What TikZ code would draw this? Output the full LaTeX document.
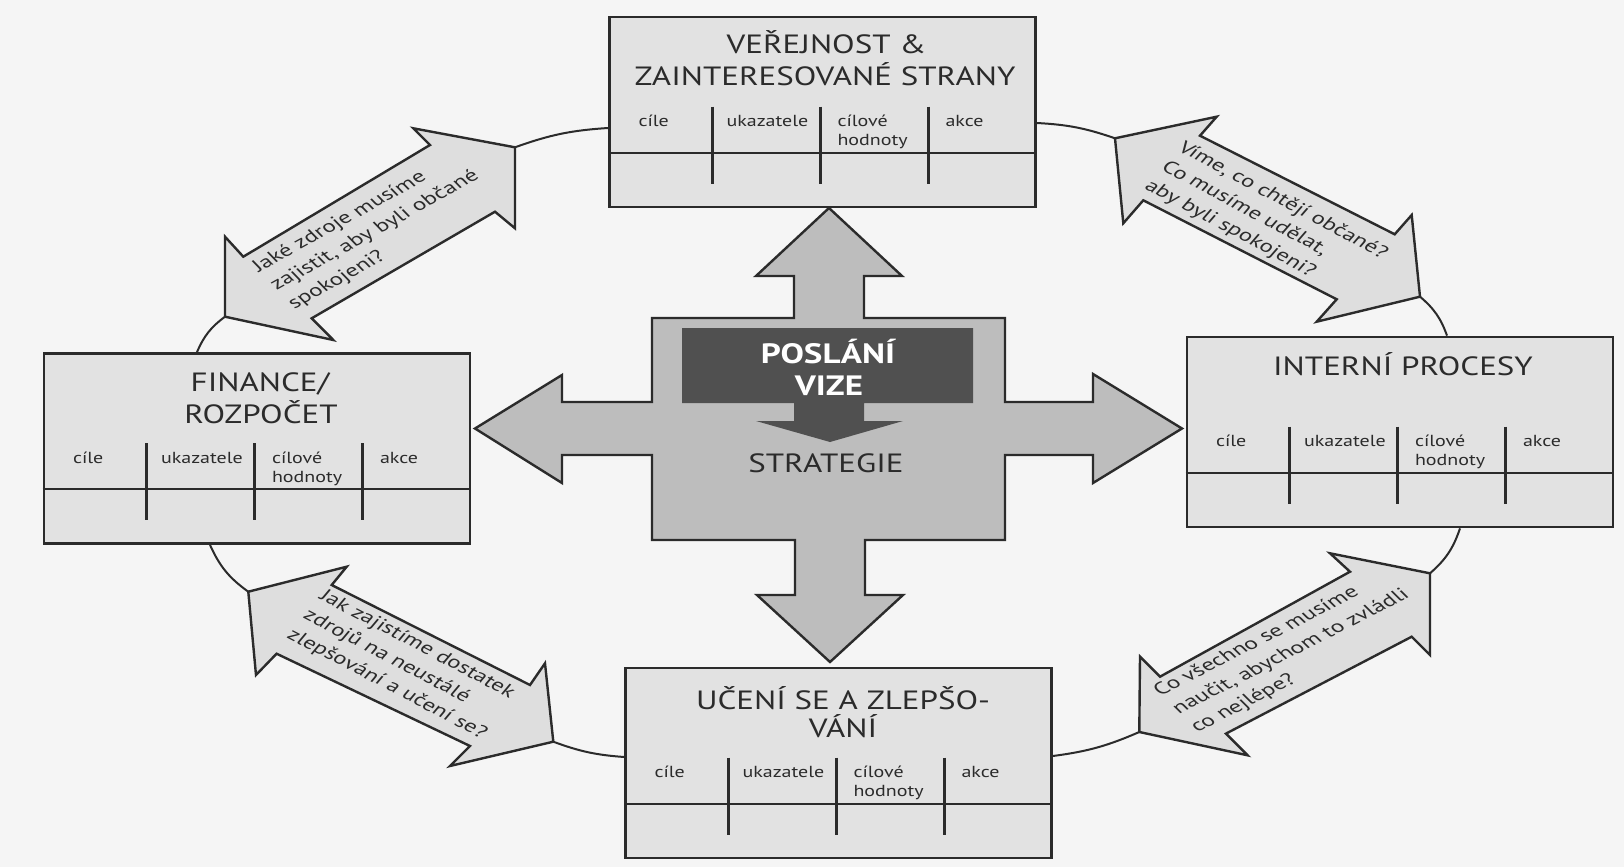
\documentclass[tikz,border=0pt]{standalone}
\usepackage{fontspec}
\setmainfont[FakeStretch=1.25]{PT Sans}
\usetikzlibrary{calc}
\definecolor{ink}{HTML}{2B2B2B}
\definecolor{paper}{HTML}{F5F5F5}
\definecolor{panelfill}{HTML}{E2E2E2}
\definecolor{crossfill}{HTML}{BDBDBD}
\definecolor{loopfill}{HTML}{DEDEDE}
\definecolor{core}{HTML}{505050}

% grid of one perspective panel: header row and four columns
\newcommand\panelgrid[1]{%
  \begin{scope}[shift={(#1.north west)}]
    \draw[rowrule] (0,137) -- (426,137);
    \foreach \c in {104,212,320} \draw[colrule] (\c,91) -- (\c,168);
    \node[lbl] (#1-a) at (30,111) {cíle};
    \node[lbl] (#1-b) at (118,111) {ukazatele};
    \node[lbl] (#1-c) at (229,111) {cílové};
    \node[lbl] (#1-d) at (229,130) {hodnoty};
    \node[lbl] (#1-e) at (337,111) {akce};
  \end{scope}}

\begin{document}
\begin{tikzpicture}[x=0.5pt,y=-0.5pt,
  panel/.style={draw=ink,line width=1.4pt,fill=panelfill,minimum width=213pt,
    minimum height=95pt,inner sep=0pt},
  rowrule/.style={draw=ink,line width=1.1pt},
  colrule/.style={draw=ink,line width=1.5pt},
  lbl/.style={anchor=base west,inner sep=0pt,text=ink,font=\fontsize{8}{9.6}\selectfont},
  ttl/.style={anchor=base,inner sep=0pt,text=ink,font=\fontsize{13.2}{16}\selectfont},
  coretext/.style={anchor=base,inner sep=0pt,text=white,font=\fontsize{14}{16}\selectfont\bfseries},
  crossshape/.style={draw=ink,line width=1.2pt,fill=crossfill,line join=miter},
  loopshape/.style={draw=ink,line width=1.2pt,fill=loopfill,line join=miter},
  qtext/.style={align=left,inner sep=0pt,text=ink,font=\fontsize{9.3}{12.3}\selectfont},
  link/.style={draw=ink,line width=1pt}]

\useasboundingbox (0,0) rectangle (1624,867);
\fill[paper] (0,0) rectangle (1624,867);

% the four perspective panels
\node[panel] (T) at (822.5,112) {};
\node[panel] (L) at (257,448.5) {};
\node[panel] (R) at (1400,432) {};
\node[panel] (B) at (838.5,763) {};

% tips of the double arrows on the loop
\coordinate (ulA) at (515,147.3);
\coordinate (ulB) at (225,316.7);
\coordinate (llA) at (248.3,591.7);
\coordinate (llB) at (553.3,741.7);
\coordinate (lrA) at (1139.3,732);
\coordinate (lrB) at (1430,573.3);
\coordinate (urA) at (1420,296.7);
\coordinate (urB) at (1115,138.3);

% the loop joining panels and double arrows
\draw[link] ([yshift=-8pt]T.west) to[bend right=8] (ulA);
\draw[link] (ulB) to[bend right=15] ([xshift=-30pt]L.north);
\draw[link] ([xshift=-23.5pt]L.south) to[bend right=15] (llA);
\draw[link] (llB) to[bend right=8] ([yshift=3pt]B.west);
\draw[link] ([yshift=3.5pt]B.east) to[bend right=8] (lrA);
\draw[link] (lrB) to[bend right=15] ([xshift=30pt]R.south);
\draw[link] ([xshift=23.5pt]R.north) to[bend right=15] (urA);
\draw[link] (urB) to[bend right=8] ([yshift=-5.5pt]T.east);

\panelgrid{T}
\panelgrid{L}
\panelgrid{R}
\panelgrid{B}

\node[ttl] (T-t1) at (826.5,54) {VEŘEJNOST \&};
\node[ttl] (T-t2) at (825,85.5) {ZAINTERESOVANÉ STRANY};
\node[ttl] (L-t1) at (260,391) {FINANCE/};
\node[ttl] (L-t2) at (261,423.5) {ROZPOČET};
\node[ttl] (R-t1) at (1403,375) {INTERNÍ PROCESY};
\node[ttl] (B-t1) at (843,709) {UČENÍ SE A ZLEPŠO-};
\node[ttl] (B-t2) at (843,737.5) {VÁNÍ};

% central cross with four arrows
\draw[crossshape] (829,208) -- (902,276) -- (864,276) -- (864,318) -- (1005,318)
  -- (1005,402) -- (1093,402) -- (1093,374) -- (1182,428.5) -- (1093,483)
  -- (1093,455) -- (1005,455) -- (1005,540) -- (865,540) -- (865,595)
  -- (903,595) -- (830,662) -- (757,595) -- (795,595) -- (795,540)
  -- (652,540) -- (652,455) -- (562,455) -- (562,483) -- (475,428.5)
  -- (562,375) -- (562,402) -- (652,402) -- (652,318) -- (794,318)
  -- (794,276) -- (756,276) -- cycle;

% dark core: mission and vision pointing down to strategy
\fill[core] (682,328) -- (973,328) -- (973,403) -- (864,403) -- (864,421)
  -- (903,421) -- (830,442) -- (756,421) -- (794,421) -- (794,403)
  -- (682,403) -- cycle;
\node[coretext] (mission) at (828,363.5) {POSLÁNÍ};
\node[coretext] (vision) at (829,395.5) {VIZE};
\node[ttl] (strategy) at (826,472) {STRATEGIE};

% the four double arrows of questions
\draw[loopshape] (243.3,256.7) -- (430,145) -- (413.3,128.3) -- (515,147.3)
  -- (515,228.3) -- (495,211.7) -- (311.7,318.3) -- (333.3,340)
  -- (225,316.7) -- (225,236.7) -- cycle;
\draw[loopshape] (1115,138.3) -- (1216.7,116.7) -- (1200,135.7) -- (1394.7,234.3)
  -- (1411.7,215) -- (1420,296.7) -- (1316.7,321.7) -- (1336.7,299.3)
  -- (1143.3,200.3) -- (1123.3,223.3) -- cycle;
\draw[loopshape] (248.3,591.7) -- (346.7,566.7) -- (331.7,585) -- (530,685)
  -- (545,663.3) -- (553.3,741.7) -- (450,766) -- (470,746)
  -- (276.6,653.7) -- (256,675) -- cycle;
\draw[loopshape] (1139.3,732) -- (1140,656.7) -- (1160,676.7) -- (1350,571.7)
  -- (1330,553.3) -- (1430,573.3) -- (1430,655) -- (1411.7,636.7)
  -- (1226,733.6) -- (1247.6,755.3) -- cycle;

\node[qtext,rotate=29,xslant=-0.27] (q1) at (375,231)
  {Jaké zdroje musíme\\zajistit, aby byli občané\\spokojeni?};
\node[qtext,rotate=-28,xslant=0.23] (q2) at (1266,220)
  {Víme, co chtějí občané?\\Co musíme udělat,\\aby byli spokojeni?};
\node[qtext,rotate=-27.5,xslant=0.22] (q3) at (403,665)
  {Jak zajistíme dostatek\\zdrojů na neustálé\\zlepšování a učení se?};
\node[qtext,rotate=27,xslant=-0.33] (q4) at (1291,652)
  {Co všechno se musíme\\naučit, abychom to zvládli\\co nejlépe?};
\end{tikzpicture}
\end{document}
